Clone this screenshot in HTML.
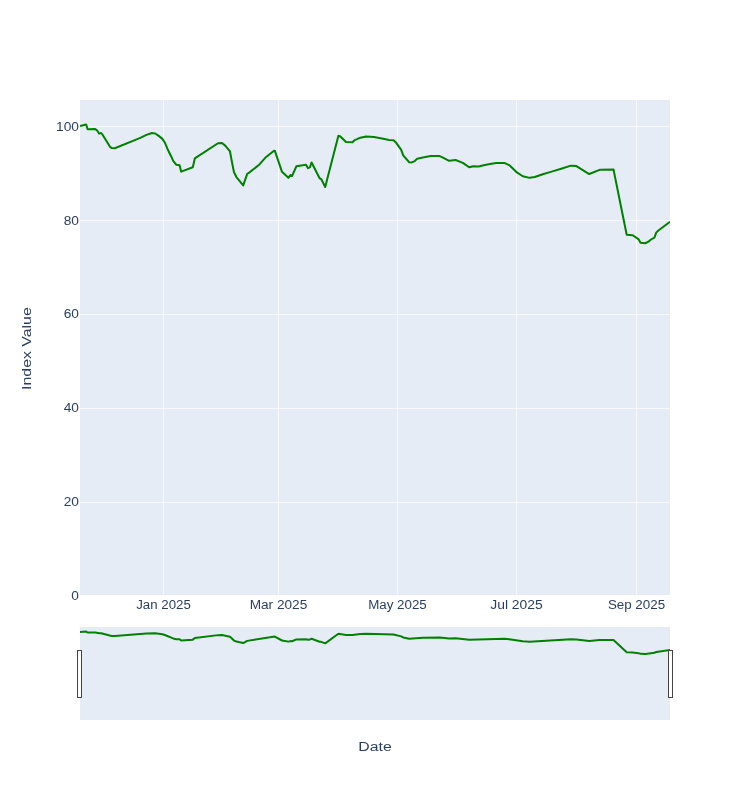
<!DOCTYPE html>
<html><head><meta charset="utf-8"><style>
html,body{margin:0;padding:0;background:#fff;width:750px;height:800px;overflow:hidden}
svg{display:block;will-change:transform}
text{font-family:"Liberation Sans", sans-serif;font-size:12px;fill:#2a3f5f}
</style></head><body>
<svg width="750" height="800" viewBox="0 0 750 800">
<defs><clipPath id="cp1"><rect x="80" y="100" width="590" height="495"/></clipPath><clipPath id="cp2"><rect x="80" y="627" width="590" height="93"/></clipPath></defs>
<rect x="80" y="100" width="590" height="495" fill="#E5ECF6"/>
<rect x="80" y="126" width="590" height="1" fill="#ffffff" opacity="0.7"/>
<rect x="80" y="220" width="590" height="1" fill="#ffffff" opacity="0.7"/>
<rect x="80" y="314" width="590" height="1" fill="#ffffff" opacity="0.7"/>
<rect x="80" y="408" width="590" height="1" fill="#ffffff" opacity="0.7"/>
<rect x="80" y="502" width="590" height="1" fill="#ffffff" opacity="0.7"/>
<rect x="163" y="100" width="1" height="495" fill="#ffffff" opacity="0.7"/>
<rect x="278" y="100" width="1" height="495" fill="#ffffff" opacity="0.7"/>
<rect x="397" y="100" width="1" height="495" fill="#ffffff" opacity="0.7"/>
<rect x="516" y="100" width="1" height="495" fill="#ffffff" opacity="0.7"/>
<rect x="636" y="100" width="1" height="495" fill="#ffffff" opacity="0.7"/>
<path d="M80,126.05L86.2,124.55L87.6,129.25L95.2,129.05L96.8,130.05L99.2,133.65L101.2,133.05L102.4,134.45L110,146.85L111.6,148.05L114.8,148.25L136,139.65L140.8,137.65L146.4,134.85L152,133.05L155.2,133.45L158.4,135.65L162.4,138.85L164.8,142.45L168,150.05L171.2,156.45L173.2,160.85L176.4,164.85L179.6,165.25L181.2,171.65L192.8,167.25L194.8,158.45L218,143.25L222,143.05L225.2,145.65L230,151.45L231.6,160.25L234,172.25L236.4,177.05L243.2,185.45L247.2,173.85L249.2,172.65L258.8,165.05L265.2,157.85L274,150.65L274.8,150.65L282,171.85L288.4,177.85L290.4,175.05L292,176.05L296.4,166.25L306,164.85L308,168.25L310,167.05L311.6,162.45L319.6,178.25L321.2,179.05L325.2,187.05L338.4,135.65L340.4,136.45L346,142.05L352.4,142.25L354.8,140.05L360.4,137.65L366,136.45L374,137.05L382,138.45L389.2,140.05L393.6,140.25L396.4,143.05L401.2,149.85L403.2,155.45L409.2,162.25L411.6,162.45L414.8,161.05L417.2,158.65L422.8,157.45L430.8,156.05L439.6,156.05L442,157.05L449.2,160.85L455.6,160.05L462.8,162.85L469.2,167.25L473.2,166.25L478.8,166.45L483.6,165.25L490,164.05L496.4,163.05L504.8,163.05L509.2,165.05L517.2,172.65L522.8,176.25L529.6,177.85L534.8,177.05L542.8,174.25L550.8,171.85L562,168.45L570.8,165.65L576.4,166.05L589.2,174.05L599.6,169.85L613.5,169.45L626.7,234.75L632.7,235.25L638.7,239.35L640.5,242.75L645.4,243.25L648.4,241.65L650.6,239.75L654.4,237.55L656.2,232.65L658.1,230.75L670,221.75" fill="none" stroke="#008000" stroke-width="2" stroke-linejoin="round" clip-path="url(#cp1)"/>
<text x="79" y="130.80" text-anchor="end" textLength="22.92" lengthAdjust="spacingAndGlyphs">100</text>
<text x="79" y="224.52" text-anchor="end" textLength="15.28" lengthAdjust="spacingAndGlyphs">80</text>
<text x="79" y="318.24" text-anchor="end" textLength="15.28" lengthAdjust="spacingAndGlyphs">60</text>
<text x="79" y="411.96" text-anchor="end" textLength="15.28" lengthAdjust="spacingAndGlyphs">40</text>
<text x="79" y="505.68" text-anchor="end" textLength="15.28" lengthAdjust="spacingAndGlyphs">20</text>
<text x="79" y="600.20" text-anchor="end" textLength="7.64" lengthAdjust="spacingAndGlyphs">0</text>
<text x="163.5" y="609" text-anchor="middle" textLength="54.6" lengthAdjust="spacingAndGlyphs">Jan 2025</text>
<text x="278.5" y="609" text-anchor="middle" textLength="57.6" lengthAdjust="spacingAndGlyphs">Mar 2025</text>
<text x="397.5" y="609" text-anchor="middle" textLength="58.6" lengthAdjust="spacingAndGlyphs">May 2025</text>
<text x="516.5" y="609" text-anchor="middle" textLength="52.4" lengthAdjust="spacingAndGlyphs">Jul 2025</text>
<text x="636.5" y="609" text-anchor="middle" textLength="57.2" lengthAdjust="spacingAndGlyphs">Sep 2025</text>
<text x="375" y="751" text-anchor="middle" font-size="14" textLength="33.4" lengthAdjust="spacingAndGlyphs">Date</text>
<text transform="translate(31,348.6) rotate(-90)" text-anchor="middle" font-size="14.5" textLength="82.7" lengthAdjust="spacingAndGlyphs">Index Value</text>
<rect x="80" y="627" width="590" height="93" fill="#E5ECF6"/>
<path d="M80,631.89L86.2,631.61L87.6,632.50L95.2,632.46L99.2,633.32L101.2,633.21L111.6,636.03L114.8,636.07L146.4,633.55L155.2,633.28L162.4,634.30L164.8,634.98L173.2,638.43L176.4,639.18L179.6,639.26L181.2,640.46L192.8,639.63L194.8,637.98L218,635.13L222,635.09L230,636.67L234,640.57L236.4,641.48L243.2,643.05L247.2,640.87L274.8,636.52L282,640.50L288.4,641.63L290.4,641.10L292,641.29L296.4,639.45L306,639.18L308,639.82L310,639.60L311.6,638.73L319.6,641.70L321.2,641.85L325.2,643.35L338.4,633.70L346,634.90L352.4,634.94L360.4,634.07L366,633.85L393.6,634.56L401.2,636.37L403.2,637.42L409.2,638.70L422.8,637.79L439.6,637.53L449.2,638.43L455.6,638.28L469.2,639.63L504.8,638.85L509.2,639.22L522.8,641.33L529.6,641.63L570.8,639.33L576.4,639.41L589.2,640.91L599.6,640.12L613.5,640.05L626.7,652.32L632.7,652.41L638.7,653.18L640.5,653.82L645.4,653.91L654.4,652.84L656.2,651.92L670,649.87" fill="none" stroke="#008000" stroke-width="2" stroke-linejoin="round" clip-path="url(#cp2)"/>
<rect x="77.5" y="650.5" width="4" height="47" fill="#ffffff" stroke="#444444" stroke-width="1"/>
<rect x="668.5" y="650.5" width="4" height="47" fill="#ffffff" stroke="#444444" stroke-width="1"/>
</svg>
</body></html>
